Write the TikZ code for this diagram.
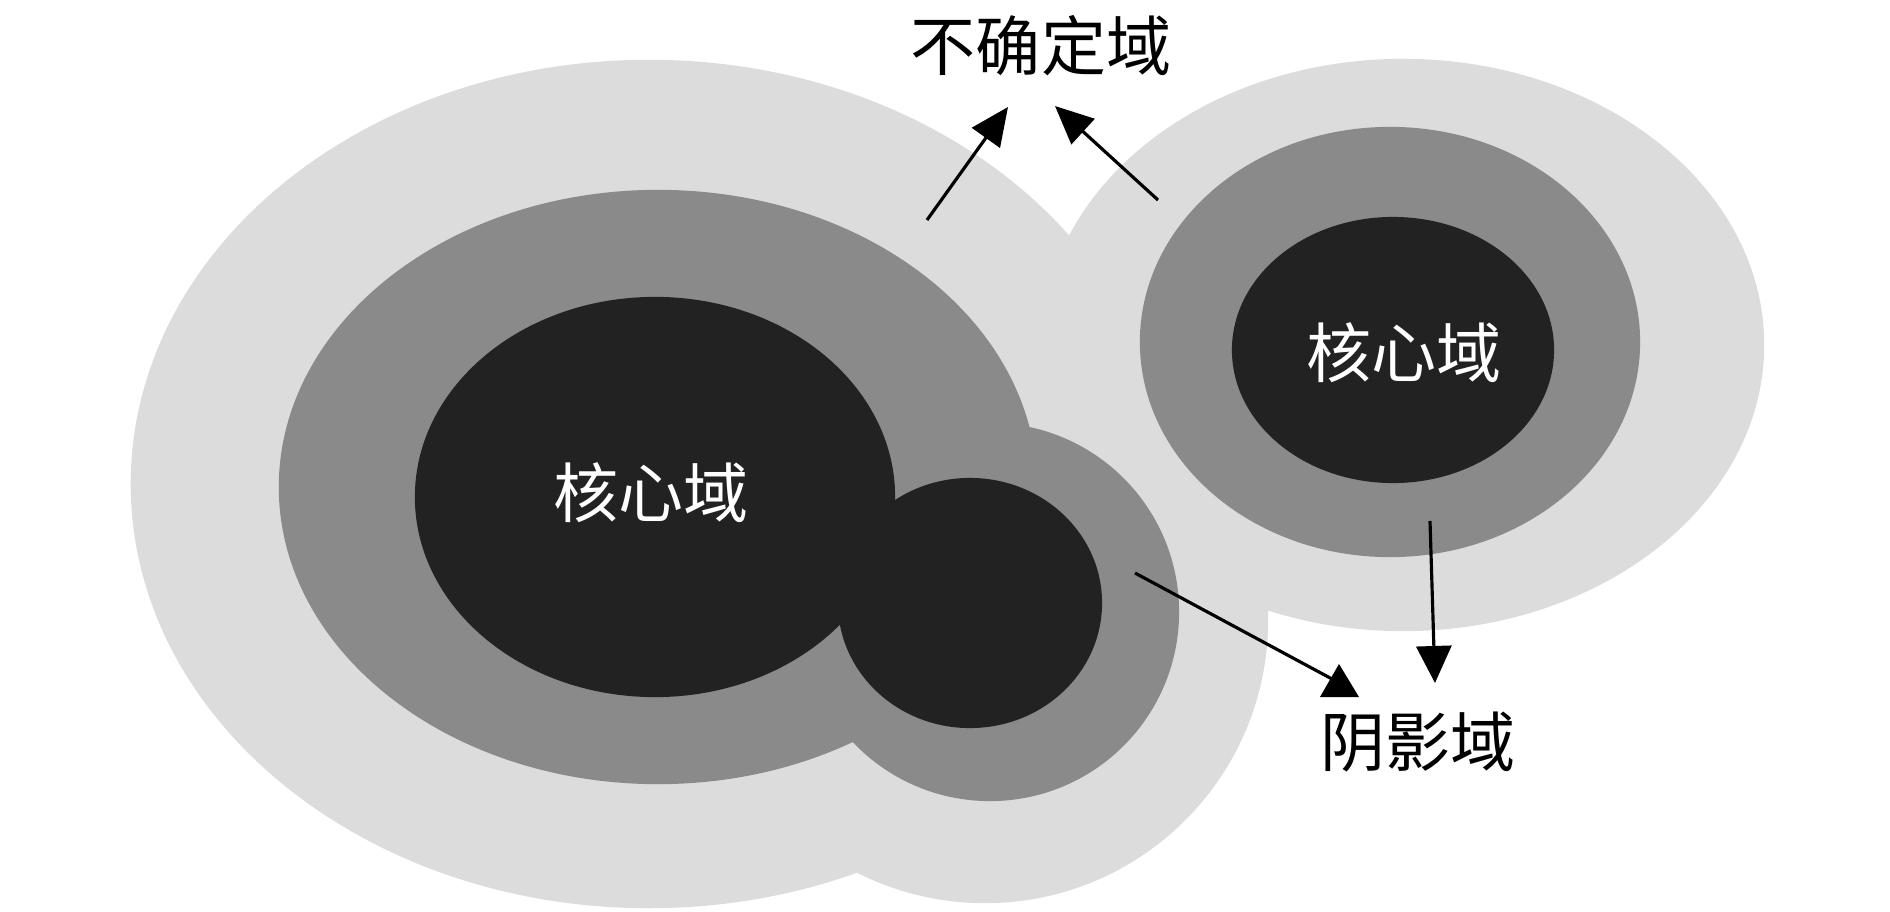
\documentclass[tikz,border=0pt]{standalone}
\usepackage{fontspec}
\newfontfamily\cjk{Noto Sans CJK SC}
\usetikzlibrary{arrows.meta}
\definecolor{lightzone}{RGB}{220,220,220}
\definecolor{midzone}{RGB}{138,138,138}
\definecolor{darkzone}{RGB}{34,34,34}
\begin{document}
\begin{tikzpicture}[x=0.01cm,y=-0.01cm,
  lbl/.style={inner sep=0pt,font=\fontsize{18.5pt}{20pt}\selectfont\cjk},
  conn/.style={line width=0.9pt,black},
  bigtip/.style={-{Triangle[length=0.38cm,width=0.34cm]}}]
\useasboundingbox (0,0) rectangle (1890,912);
\fill[white] (0,0) rectangle (1890,912);
% uncertain zones (light)
\fill[lightzone] (649,484) ellipse [x radius=5.18cm, y radius=4.24cm];
\fill[lightzone] (985,620) circle [radius=2.83cm];
\fill[lightzone] (1403,345) ellipse [x radius=3.61cm, y radius=2.86cm];
% shadow zones (medium)
\fill[midzone] (658,487) ellipse [x radius=3.79cm, y radius=2.97cm];
\fill[midzone] (990,612) circle [radius=1.89cm];
\fill[midzone] (1390,342) ellipse [x radius=2.50cm, y radius=2.15cm];
% core zones (dark)
\fill[darkzone] (655,497) ellipse [x radius=2.40cm, y radius=2.00cm];
\fill[darkzone] (970,603) ellipse [x radius=1.32cm, y radius=1.25cm];
\fill[darkzone] (1393,350) ellipse [x radius=1.61cm, y radius=1.33cm];
% labels
\node[lbl,text=white] (coreL) at (651,493) {核心域};
\node[lbl,text=white] (coreR) at (1404,353) {核心域};
\node[lbl] (uncert) at (1041,46) {不确定域};
\node[lbl] (shadow) at (1418,742) {阴影域};
% connectors
\coordinate (a1s) at (927,220);
\coordinate (a1e) at (1008,107);
\coordinate (a2s) at (1158,200);
\coordinate (a2e) at (1055,106);
\coordinate (a3s) at (1135,573);
\coordinate (a3e) at (1332,679);
\coordinate (a4s) at (1430,521);
\coordinate (a4e) at (1435,683);
\draw[conn,bigtip] (a1s) -- (a1e);
\draw[conn,bigtip] (a2s) -- (a2e);
\draw[conn] (a3s) -- (a3e);
\fill[black] (1339,664) -- (1359,697) -- (1320,697) -- cycle;
\draw[conn,-{Triangle[length=0.37cm,width=0.35cm]}] (a4s) -- (a4e);
\end{tikzpicture}
\end{document}
